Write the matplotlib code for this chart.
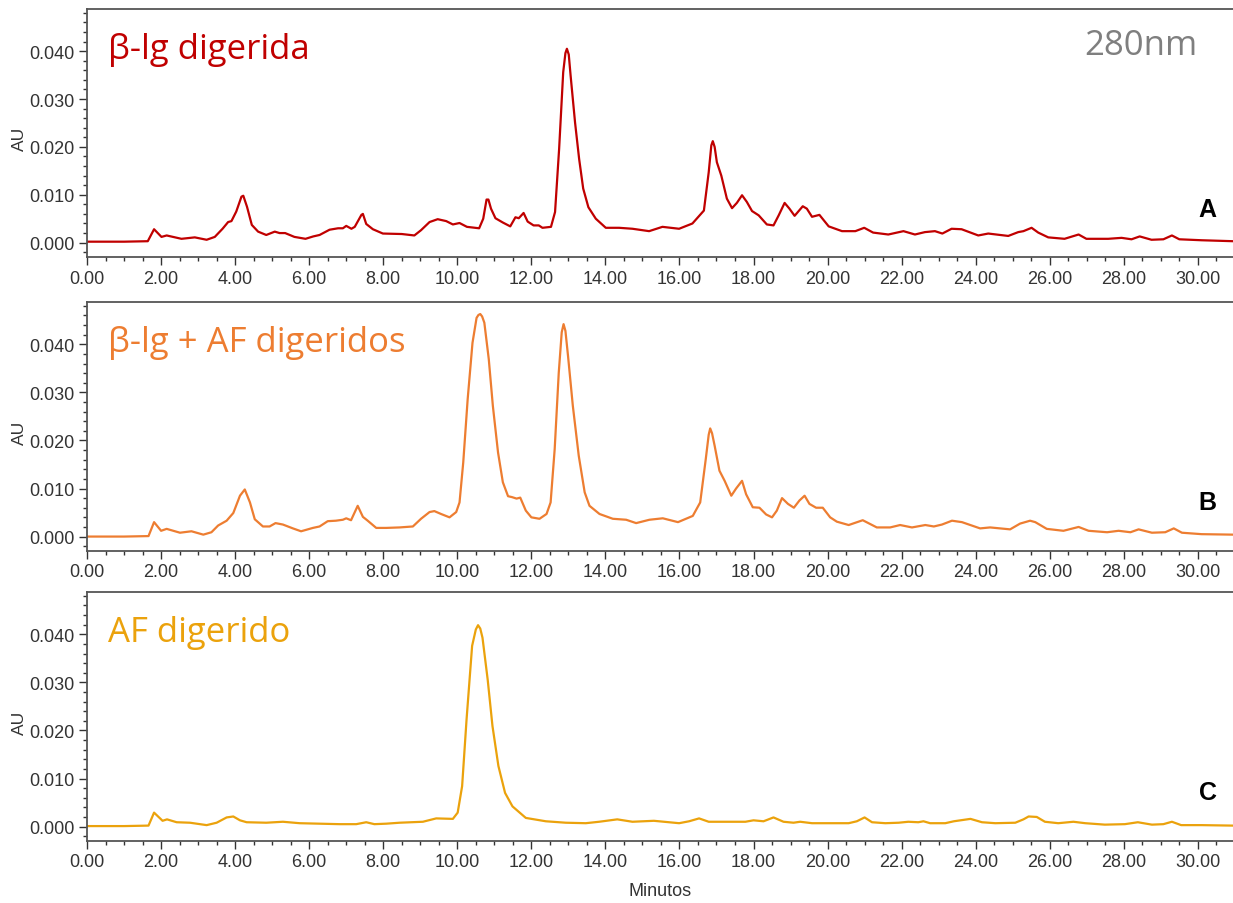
import numpy as np
import matplotlib
matplotlib.use("Agg")
import matplotlib.pyplot as plt
from matplotlib.ticker import MultipleLocator, FormatStrFormatter

# Chromatogram traces at 280 nm (time in minutes, absorbance in AU)
t_a = [0.0, 1.0, 1.64, 1.81, 2.01, 2.15, 2.55, 2.91, 3.23, 3.45, 3.66, 3.81, 3.9, 4.03,
       4.17, 4.22, 4.32, 4.45, 4.62, 4.84, 5.07, 5.2, 5.35, 5.6, 5.9, 6.11, 6.28, 6.55,
       6.78, 6.91, 7.0, 7.14, 7.23, 7.41, 7.45, 7.54, 7.72, 7.99, 8.5, 8.84, 9.02, 9.25,
       9.47, 9.7, 9.88, 10.06, 10.26, 10.59, 10.7, 10.79, 10.84, 10.91, 11.03, 11.23, 11.43,
       11.57, 11.66, 11.79, 11.9, 12.06, 12.2, 12.3, 12.53, 12.64, 12.75, 12.86, 12.92,
       12.96, 13.01, 13.06, 13.18, 13.29, 13.4, 13.54, 13.74, 14.01, 14.37, 14.73, 15.18,
       15.54, 15.99, 16.35, 16.66, 16.79, 16.86, 16.9, 16.95, 17.01, 17.13, 17.28, 17.42,
       17.55, 17.69, 17.82, 17.96, 18.14, 18.36, 18.54, 18.68, 18.84, 18.97, 19.11, 19.33,
       19.44, 19.58, 19.78, 20.03, 20.39, 20.75, 20.99, 21.23, 21.64, 22.05, 22.36, 22.63,
       22.9, 23.1, 23.35, 23.62, 24.07, 24.34, 24.88, 25.15, 25.29, 25.51, 25.69, 25.96,
       26.4, 26.78, 26.99, 27.58, 27.94, 28.21, 28.43, 28.75, 29.07, 29.3, 29.5, 30.1, 30.95]
au_a = [0.0002, 0.0002, 0.0003, 0.0028, 0.0012, 0.0015, 0.0008, 0.0011, 0.0006, 0.0012,
        0.0029, 0.0043, 0.0045, 0.0065, 0.0096, 0.0098, 0.0075, 0.0037, 0.0023, 0.0016,
        0.0023, 0.0020, 0.0020, 0.0012, 0.0008, 0.0013, 0.0016, 0.0027, 0.0030, 0.0030,
        0.0035, 0.0029, 0.0033, 0.0058, 0.0060, 0.0039, 0.0028, 0.0019, 0.0018, 0.0015,
        0.0026, 0.0043, 0.0049, 0.0045, 0.0038, 0.0041, 0.0033, 0.0030, 0.0050, 0.0090,
        0.0090, 0.0071, 0.0051, 0.0042, 0.0034, 0.0053, 0.0051, 0.0062, 0.0044, 0.0036,
        0.0036, 0.0031, 0.0033, 0.0064, 0.0196, 0.0356, 0.0396, 0.0405, 0.0393, 0.0349,
        0.0251, 0.0175, 0.0113, 0.0074, 0.0050, 0.0031, 0.0031, 0.0029, 0.0024, 0.0033,
        0.0029, 0.0040, 0.0067, 0.0147, 0.0203, 0.0212, 0.0200, 0.0168, 0.0140, 0.0092,
        0.0072, 0.0083, 0.0099, 0.0085, 0.0066, 0.0057, 0.0038, 0.0036, 0.0057, 0.0083,
        0.0071, 0.0056, 0.0076, 0.0071, 0.0054, 0.0058, 0.0034, 0.0024, 0.0024, 0.0031,
        0.0021, 0.0017, 0.0024, 0.0017, 0.0022, 0.0024, 0.0019, 0.0029, 0.0028, 0.0015,
        0.0019, 0.0014, 0.0022, 0.0024, 0.0031, 0.0021, 0.0011, 0.0008, 0.0017, 0.0008,
        0.0008, 0.0010, 0.0007, 0.0013, 0.0006, 0.0007, 0.0015, 0.0007, 0.0005, 0.0003]

t_b = [0.0, 1.0, 1.66, 1.81, 2.0, 2.15, 2.51, 2.82, 3.14, 3.36, 3.54, 3.77, 3.95, 4.13,
       4.26, 4.4, 4.53, 4.75, 4.93, 5.09, 5.29, 5.56, 5.78, 6.1, 6.28, 6.5, 6.72, 6.91,
       7.0, 7.13, 7.31, 7.45, 7.58, 7.81, 8.08, 8.44, 8.8, 9.02, 9.25, 9.38, 9.56, 9.79,
       9.97, 10.06, 10.16, 10.28, 10.41, 10.52, 10.57, 10.62, 10.67, 10.73, 10.85, 10.96,
       11.1, 11.23, 11.37, 11.48, 11.6, 11.7, 11.85, 12.0, 12.22, 12.41, 12.52, 12.63,
       12.74, 12.82, 12.87, 12.92, 12.99, 13.12, 13.28, 13.44, 13.57, 13.84, 14.2, 14.56,
       14.83, 15.19, 15.55, 15.96, 16.36, 16.56, 16.71, 16.79, 16.83, 16.88, 16.95, 17.08,
       17.22, 17.4, 17.53, 17.69, 17.8, 17.98, 18.16, 18.34, 18.5, 18.63, 18.77, 18.93,
       19.09, 19.24, 19.38, 19.51, 19.69, 19.87, 20.07, 20.25, 20.57, 20.95, 21.33, 21.69,
       21.96, 22.28, 22.64, 22.87, 23.09, 23.36, 23.63, 24.12, 24.39, 24.93, 25.2, 25.47,
       25.61, 25.92, 26.37, 26.78, 27.05, 27.55, 27.86, 28.18, 28.4, 28.76, 29.12, 29.35,
       29.57, 30.1, 30.95]
au_b = [0.0000, 0.0000, 0.0001, 0.0030, 0.0012, 0.0016, 0.0008, 0.0011, 0.0004, 0.0009,
        0.0023, 0.0033, 0.0049, 0.0085, 0.0098, 0.0071, 0.0036, 0.0021, 0.0021, 0.0028,
        0.0025, 0.0017, 0.0011, 0.0018, 0.0021, 0.0032, 0.0033, 0.0035, 0.0038, 0.0034,
        0.0064, 0.0041, 0.0033, 0.0018, 0.0018, 0.0019, 0.0021, 0.0037, 0.0051, 0.0053,
        0.0047, 0.0040, 0.0051, 0.0071, 0.0154, 0.0286, 0.0403, 0.0455, 0.0461, 0.0463,
        0.0458, 0.0445, 0.0369, 0.0272, 0.0175, 0.0113, 0.0084, 0.0082, 0.0079, 0.0081,
        0.0054, 0.0040, 0.0037, 0.0047, 0.0071, 0.0182, 0.0341, 0.0425, 0.0442, 0.0428,
        0.0376, 0.0272, 0.0168, 0.0092, 0.0064, 0.0047, 0.0037, 0.0035, 0.0028, 0.0035,
        0.0038, 0.0030, 0.0043, 0.0071, 0.0161, 0.0212, 0.0225, 0.0215, 0.0189, 0.0137,
        0.0116, 0.0085, 0.0100, 0.0116, 0.0088, 0.0061, 0.0060, 0.0046, 0.0040, 0.0054,
        0.0080, 0.0068, 0.0060, 0.0075, 0.0085, 0.0068, 0.0060, 0.0060, 0.0040, 0.0031,
        0.0024, 0.0034, 0.0019, 0.0019, 0.0024, 0.0019, 0.0024, 0.0021, 0.0025, 0.0033,
        0.0030, 0.0017, 0.0019, 0.0015, 0.0027, 0.0033, 0.0030, 0.0016, 0.0012, 0.0020,
        0.0012, 0.0009, 0.0012, 0.0009, 0.0015, 0.0008, 0.0009, 0.0017, 0.0008, 0.0005,
        0.0004]

t_c = [0.0, 1.0, 1.66, 1.81, 2.04, 2.16, 2.42, 2.78, 3.23, 3.5, 3.77, 3.95, 4.13, 4.31,
       4.84, 5.29, 5.74, 6.28, 6.82, 7.27, 7.54, 7.76, 8.08, 8.44, 9.07, 9.43, 9.88,
       10.01, 10.13, 10.25, 10.4, 10.5, 10.56, 10.62, 10.68, 10.82, 10.95, 11.11, 11.29,
       11.49, 11.85, 12.39, 12.93, 13.47, 13.83, 14.32, 14.73, 15.31, 15.99, 16.26, 16.53,
       16.79, 17.42, 17.78, 18.0, 18.27, 18.54, 18.81, 19.08, 19.26, 19.58, 20.03, 20.57,
       20.79, 21.0, 21.2, 21.56, 21.92, 22.18, 22.45, 22.59, 22.77, 23.18, 23.41, 23.86,
       24.17, 24.53, 25.07, 25.29, 25.43, 25.65, 25.87, 26.23, 26.64, 26.96, 27.49, 28.03,
       28.38, 28.76, 29.07, 29.3, 29.55, 30.1, 30.95]
au_c = [0.0001, 0.0001, 0.0002, 0.0029, 0.0012, 0.0015, 0.0009, 0.0008, 0.0003, 0.0008,
        0.0019, 0.0021, 0.0013, 0.0009, 0.0008, 0.0010, 0.0007, 0.0006, 0.0005, 0.0005,
        0.0009, 0.0005, 0.0006, 0.0008, 0.0010, 0.0017, 0.0016, 0.0029, 0.0084, 0.0223,
        0.0376, 0.0410, 0.0419, 0.0412, 0.0393, 0.0306, 0.0209, 0.0126, 0.0070, 0.0042,
        0.0018, 0.0011, 0.0008, 0.0007, 0.0010, 0.0015, 0.0010, 0.0012, 0.0007, 0.0011,
        0.0017, 0.0010, 0.0010, 0.0010, 0.0013, 0.0011, 0.0019, 0.0010, 0.0008, 0.0010,
        0.0007, 0.0007, 0.0007, 0.0011, 0.0019, 0.0009, 0.0007, 0.0008, 0.0010, 0.0009,
        0.0011, 0.0007, 0.0007, 0.0011, 0.0016, 0.0009, 0.0007, 0.0008, 0.0015, 0.0021,
        0.0020, 0.0010, 0.0007, 0.0010, 0.0007, 0.0004, 0.0005, 0.0009, 0.0004, 0.0005,
        0.0010, 0.0003, 0.0003, 0.0002]

titles = ["β-lg digerida", "β-lg + AF digeridos", "AF digerido"]
letters = ["A", "B", "C"]
colors = ["#C00000", "#ED7D31", "#EBA20C"]
wavelength = "280nm"

fig = plt.figure(figsize=(12.33, 9.04), dpi=100)
plt.rcParams["font.family"] = ["Liberation Sans", "DejaVu Sans"]

# panel boxes in figure fractions: left, bottom, width, height
boxes = [(0.0706, 0.7146, 0.9294, 0.2743),
         (0.0706, 0.3894, 0.9294, 0.2754),
         (0.0706, 0.0686, 0.9294, 0.2754)]

traces = [(t_a, au_a), (t_b, au_b), (t_c, au_c)]

for i, (box, (t, au)) in enumerate(zip(boxes, traces)):
    ax = fig.add_axes(box)
    ax.plot(t, au, color=colors[i], lw=1.6, solid_joinstyle="round")
    ax.set_xlim(0, 30.95)
    ax.set_ylim(-0.003, 0.0488)

    ax.xaxis.set_major_locator(MultipleLocator(2))
    ax.xaxis.set_minor_locator(MultipleLocator(0.5))
    ax.xaxis.set_major_formatter(FormatStrFormatter("%.2f"))
    ax.yaxis.set_major_locator(MultipleLocator(0.01))
    ax.yaxis.set_minor_locator(MultipleLocator(0.002))
    ax.yaxis.set_major_formatter(FormatStrFormatter("%.3f"))

    ax.tick_params(which="major", length=6, width=1, color="#333333",
                   labelsize=13, labelcolor="#333333", pad=3)
    ax.tick_params(which="minor", length=3, width=1, color="#333333")

    for side in ["left", "bottom", "top"]:
        ax.spines[side].set_color("#555555")
        ax.spines[side].set_linewidth(1.3)
    ax.spines["right"].set_visible(False)

    ax.set_ylabel("AU", fontsize=12.5, color="#333333")
    ax.yaxis.set_label_coords(-0.052, 0.48)

    ax.text(0.0185, 0.84, titles[i], transform=ax.transAxes, fontsize=25,
            color=colors[i], family="Open Sans", va="center", ha="left")
    ax.text(0.978, 0.195, letters[i], transform=ax.transAxes, fontsize=18,
            fontweight="bold", color="black", va="center", ha="center")
    if i == 0:
        ax.text(0.9197, 0.855, wavelength, transform=ax.transAxes, fontsize=25,
                color="#7F7F7F", family="Open Sans", va="center", ha="center")
    if i == 2:
        ax.set_xlabel("Minutos", fontsize=13, color="#333333", labelpad=8)

fig.savefig("out.png", dpi=100)
